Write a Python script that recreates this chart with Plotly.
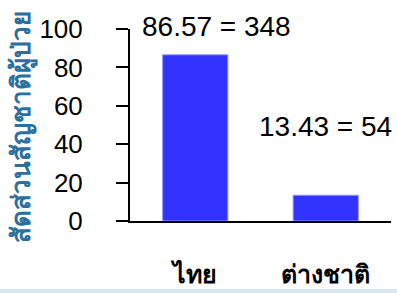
import plotly.graph_objects as go

categories = ["ไทย", "ต่างชาติ"]
percentages = [86.57, 13.43]
counts = [348, 54]
y_ticks = [0, 20, 40, 60, 80, 100]
y_title = "สัดส่วนสัญชาติผู้ป่วย"

FONT = "Liberation Sans, Noto Sans, DejaVu Sans, sans-serif"

fig = go.Figure()
fig.add_trace(go.Bar(
    x=categories,
    y=percentages,
    marker=dict(color="#3333FF", line=dict(color="#9999FF", width=1)),
    width=0.5,
    hoverinfo="skip",
))

labels = [f"{p:.2f} = {c}" for p, c in zip(percentages, counts)]
fig.add_annotation(x=categories[0], y=100, text=labels[0], showarrow=False,
                   xref="x", yref="y", xshift=21, yshift=3, yanchor="middle",
                   font=dict(size=28, color="black", family=FONT))
fig.add_annotation(x=categories[1], y=49, text=labels[1], showarrow=False,
                   xref="x", yref="y", xshift=0, yanchor="middle",
                   font=dict(size=28, color="black", family=FONT))

# rotated y-axis title
fig.add_annotation(x=-108/261, y=0.49, xref="paper", yref="paper",
                   text=y_title, textangle=-90, showarrow=False,
                   xanchor="center", yanchor="middle",
                   font=dict(size=26, color="#2B6F9E", family=FONT, weight="bold"))

# bottom light-blue band
fig.add_shape(type="rect", xref="paper", yref="paper",
              x0=-1, x1=2, y0=-76/192, y1=-68/192,
              fillcolor="#D6E6F5", line=dict(width=0), layer="above")

fig.update_layout(
    width=397, height=293,
    margin=dict(l=130, r=6, t=29, b=72, pad=0),
    paper_bgcolor="white", plot_bgcolor="white",
    showlegend=False,
    bargap=0.5,
    font=dict(family=FONT, color="black"),
    xaxis=dict(
        automargin=False,
        showline=True, linecolor="black", linewidth=2,
        ticks="", showgrid=False, zeroline=False,
        tickfont=dict(size=25, color="black", weight="bold"),
        ticklabelstandoff=30,
        range=[-0.5, 1.5],
    ),
    yaxis=dict(
        automargin=False,
        range=[0, 100], tickvals=y_ticks,
        showline=True, linecolor="black", linewidth=2,
        ticks="outside", ticklen=12, tickwidth=2, tickcolor="black",
        showgrid=False, zeroline=False,
        tickfont=dict(size=26, color="black"),
        ticklabelstandoff=28,
    ),
)

fig.write_html("out.html", config={"displayModeBar": False},
               post_script="document.body.style.margin='0';")
